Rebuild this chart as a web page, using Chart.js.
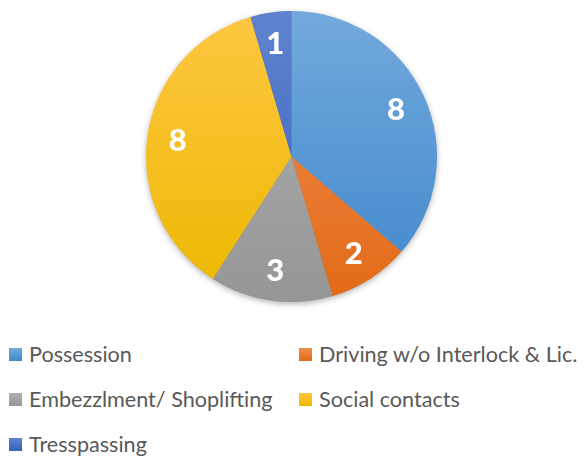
<!DOCTYPE html>
<html>
<head>
<meta charset="utf-8">
<script src="https://cdn.jsdelivr.net/npm/chart.js@4.4.0/dist/chart.umd.min.js"></script>
<style>
  html, body { margin: 0; padding: 0; background: #fff; }
  #wrap { position: relative; width: 585px; height: 457px; overflow: hidden; }
  #cv { position: absolute; left: 0; top: 0; }
  .item { position: absolute; font-family: Lato, "Open Sans", sans-serif; font-size: 21.6px; color: #595959; line-height: 22px; white-space: nowrap; }
  .box { position: absolute; width: 13px; height: 13px; }
</style>
</head>
<body>
<div id="wrap">
  <canvas id="cv" width="585" height="314"></canvas>
  <div id="legend"></div>
</div>
<script>
const categories = ["Possession", "Driving w/o Interlock & Lic.", "Embezzlment/ Shoplifting", "Social contacts", "Tresspassing"];
const counts = [8, 2, 3, 8, 1];
const topColors = ["#72A9DD", "#F28E52", "#B0B0B0", "#FFC742", "#5F83CE"];
const bottomColors = ["#4088CB", "#E36A17", "#969696", "#ECB800", "#3562BE"];

function sliceFill(ctx) {
  const chart = ctx.chart;
  const area = chart.chartArea;
  if (!area) return topColors[ctx.dataIndex];
  const g = chart.ctx.createLinearGradient(0, area.top, 0, area.bottom);
  g.addColorStop(0, topColors[ctx.dataIndex]);
  g.addColorStop(1, bottomColors[ctx.dataIndex]);
  return g;
}

const shadowPlugin = {
  id: 'pieShadow',
  beforeDatasetsDraw(chart) {
    const arc = chart.getDatasetMeta(0).data[0];
    if (!arc) return;
    const c = chart.ctx;
    c.save();
    c.shadowColor = 'rgba(0,0,0,0.35)';
    c.shadowBlur = 6;
    c.shadowOffsetY = 2;
    c.fillStyle = '#888';
    c.beginPath();
    c.arc(arc.x, arc.y, arc.outerRadius - 0.5, 0, Math.PI * 2);
    c.fill();
    c.restore();
  }
};

const labelPlugin = {
  id: 'sliceLabels',
  afterDatasetsDraw(chart) {
    const meta = chart.getDatasetMeta(0);
    const c = chart.ctx;
    c.save();
    c.fillStyle = '#ffffff';
    c.font = '900 31px Lato, "Open Sans", sans-serif';
    c.textAlign = 'center';
    c.textBaseline = 'middle';
    meta.data.forEach((arc, i) => {
      const p = arc.getProps(['x', 'y', 'startAngle', 'endAngle', 'outerRadius'], true);
      const mid = (p.startAngle + p.endAngle) / 2;
      const r = p.outerRadius * 0.79;
      c.fillText(String(chart.data.datasets[0].data[i]), p.x + Math.cos(mid) * r, p.y + Math.sin(mid) * r + 1);
    });
    c.restore();
  }
};

const chart = new Chart(document.getElementById('cv'), {
  type: 'pie',
  data: {
    labels: categories,
    datasets: [{
      data: counts,
      backgroundColor: sliceFill,
      borderWidth: 0,
      hoverBorderWidth: 0,
      hoverOffset: 0
    }]
  },
  options: {
    responsive: false,
    animation: false,
    events: [],
    layout: { padding: { top: 11, bottom: 12, left: 0, right: 2 } },
    plugins: { legend: { display: false }, tooltip: { enabled: false } }
  },
  plugins: [shadowPlugin, labelPlugin]
});

// HTML legend built from chart data
const legend = document.getElementById('legend');
const colX = [9, 299];
const rowY = [355, 400, 445];
chart.data.labels.forEach((lab, i) => {
  const col = i % 2, row = Math.floor(i / 2);
  const box = document.createElement('div');
  box.className = 'box';
  box.style.left = colX[col] + 'px';
  box.style.top = (rowY[row] - 7) + 'px';
  box.style.background = 'linear-gradient(' + topColors[i] + ',' + bottomColors[i] + ')';
  const t = document.createElement('div');
  t.className = 'item';
  t.textContent = lab;
  t.style.left = (colX[col] + 20) + 'px';
  t.style.top = (rowY[row] - 12) + 'px';
  legend.appendChild(box);
  legend.appendChild(t);
});
</script>
</body>
</html>
